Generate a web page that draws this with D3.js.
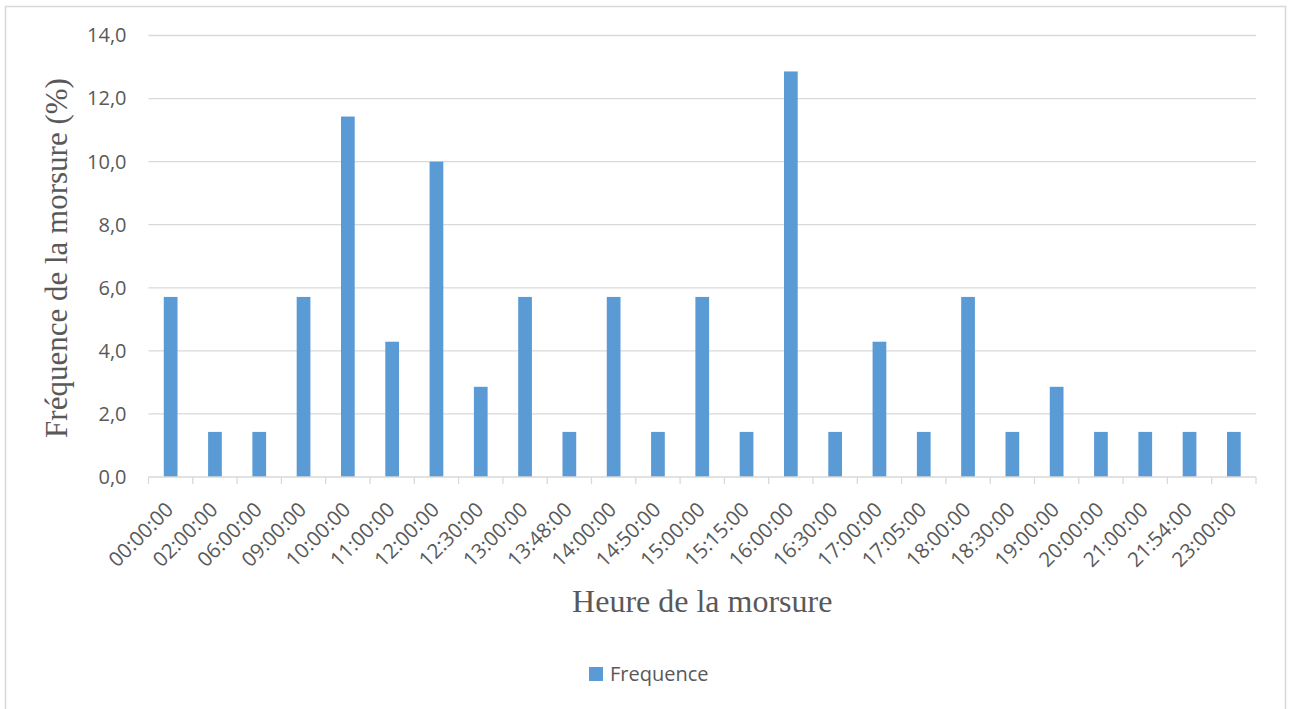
<!DOCTYPE html>
<html>
<head>
<meta charset="utf-8">
<script src="https://cdn.jsdelivr.net/npm/d3@7"></script>
<style>
  html, body { margin: 0; padding: 0; background: #fff; }
  svg { display: block; }
</style>
</head>
<body>
<svg id="chart" width="1292" height="709"></svg>
<script>
// Heures de morsure et fréquence (%)
const heures = ["00:00:00","02:00:00","06:00:00","09:00:00","10:00:00","11:00:00","12:00:00","12:30:00",
  "13:00:00","13:48:00","14:00:00","14:50:00","15:00:00","15:15:00","16:00:00","16:30:00","17:00:00",
  "17:05:00","18:00:00","18:30:00","19:00:00","20:00:00","21:00:00","21:54:00","23:00:00"];
const frequence = [5.71,1.43,1.43,5.71,11.43,4.29,10.0,2.86,5.71,1.43,5.71,1.43,5.71,1.43,12.86,1.43,4.29,
  1.43,5.71,1.43,2.86,1.43,1.43,1.43,1.43];
const yTicks = [0,2,4,6,8,10,12,14];
const seriesName = "Frequence";

const svg = d3.select("#chart");
const m = { left: 148.5, right: 1256, top: 35.5, bottom: 477 };
const textColor = "#595959";
const barColor = "#5B9BD5";
const sans = "'Open Sans', 'Liberation Sans', sans-serif";
const serif = "'Liberation Serif', 'DejaVu Serif', serif";

// Chart frame
svg.append("rect")
  .attr("x", 5.5).attr("y", 6.5).attr("width", 1280).attr("height", 720)
  .attr("fill", "#fff").attr("stroke", "#D9D9D9").attr("stroke-width", 1.5);

const x = d3.scaleBand().domain(heures).range([m.left, m.right]).paddingInner(0.69).paddingOuter(0.345);
const xb = d3.scaleBand().domain(heures).range([m.left, m.right]);
const y = d3.scaleLinear().domain([0, 14]).range([m.bottom, m.top]);

// Gridlines
svg.append("g")
  .selectAll("line").data(yTicks.filter(d => d > 0)).join("line")
  .attr("x1", m.left).attr("x2", m.right)
  .attr("y1", d => y(d)).attr("y2", d => y(d))
  .attr("stroke", "#D9D9D9").attr("stroke-width", 1.3);

// Y axis labels
const yAxis = d3.axisLeft(y).tickValues(yTicks).tickSize(0).tickPadding(22)
  .tickFormat(d => d3.format(".1f")(d).replace(".", ","));
const gy = svg.append("g").attr("transform", `translate(${m.left},0)`).call(yAxis);
gy.select(".domain").remove();
gy.selectAll("text").attr("fill", textColor).style("font-family", sans).style("font-size", "20px");

// Bars
svg.append("g")
  .selectAll("rect").data(heures).join("rect")
  .attr("x", d => x(d))
  .attr("width", x.bandwidth())
  .attr("y", (d, i) => y(frequence[i]))
  .attr("height", (d, i) => y(0) - y(frequence[i]))
  .attr("fill", barColor);

// X axis with ticks at category boundaries
const gx = svg.append("g").attr("transform", `translate(0,${m.bottom})`);
gx.append("line").attr("x1", m.left).attr("x2", m.right).attr("y1", 0).attr("y2", 0)
  .attr("stroke", "#D9D9D9").attr("stroke-width", 1.3);
const bounds = heures.map(d => xb(d)).concat([m.right]);
gx.selectAll("line.tick").data(bounds).join("line").attr("class", "tick")
  .attr("x1", d => d).attr("x2", d => d).attr("y1", 0).attr("y2", 7)
  .attr("stroke", "#D9D9D9").attr("stroke-width", 1.3);
gx.selectAll("text").data(heures).join("text")
  .attr("transform", d => `translate(${xb(d) + xb.bandwidth() / 2 + 4},${34}) rotate(-45)`)
  .attr("text-anchor", "end")
  .attr("fill", textColor)
  .style("font-family", sans).style("font-size", "20.5px")
  .text(d => d);

// Axis titles
svg.append("text")
  .attr("x", (m.left + m.right) / 2).attr("y", 612)
  .attr("text-anchor", "middle")
  .attr("fill", textColor).style("font-family", serif).style("font-size", "32px")
  .text("Heure de la morsure");

svg.append("text")
  .attr("transform", `translate(67,258) rotate(-90)`)
  .attr("text-anchor", "middle")
  .attr("fill", textColor).style("font-family", serif).style("font-size", "31px")
  .text("Fréquence de la morsure (%)");

// Legend
const lg = svg.append("g").attr("transform", "translate(589,667)");
lg.append("rect").attr("x", 0).attr("y", 0).attr("width", 14).attr("height", 14).attr("fill", barColor);
lg.append("text").attr("x", 21).attr("y", 14)
  .attr("fill", textColor).style("font-family", sans).style("font-size", "20px")
  .text(seriesName);
</script>
</body>
</html>
